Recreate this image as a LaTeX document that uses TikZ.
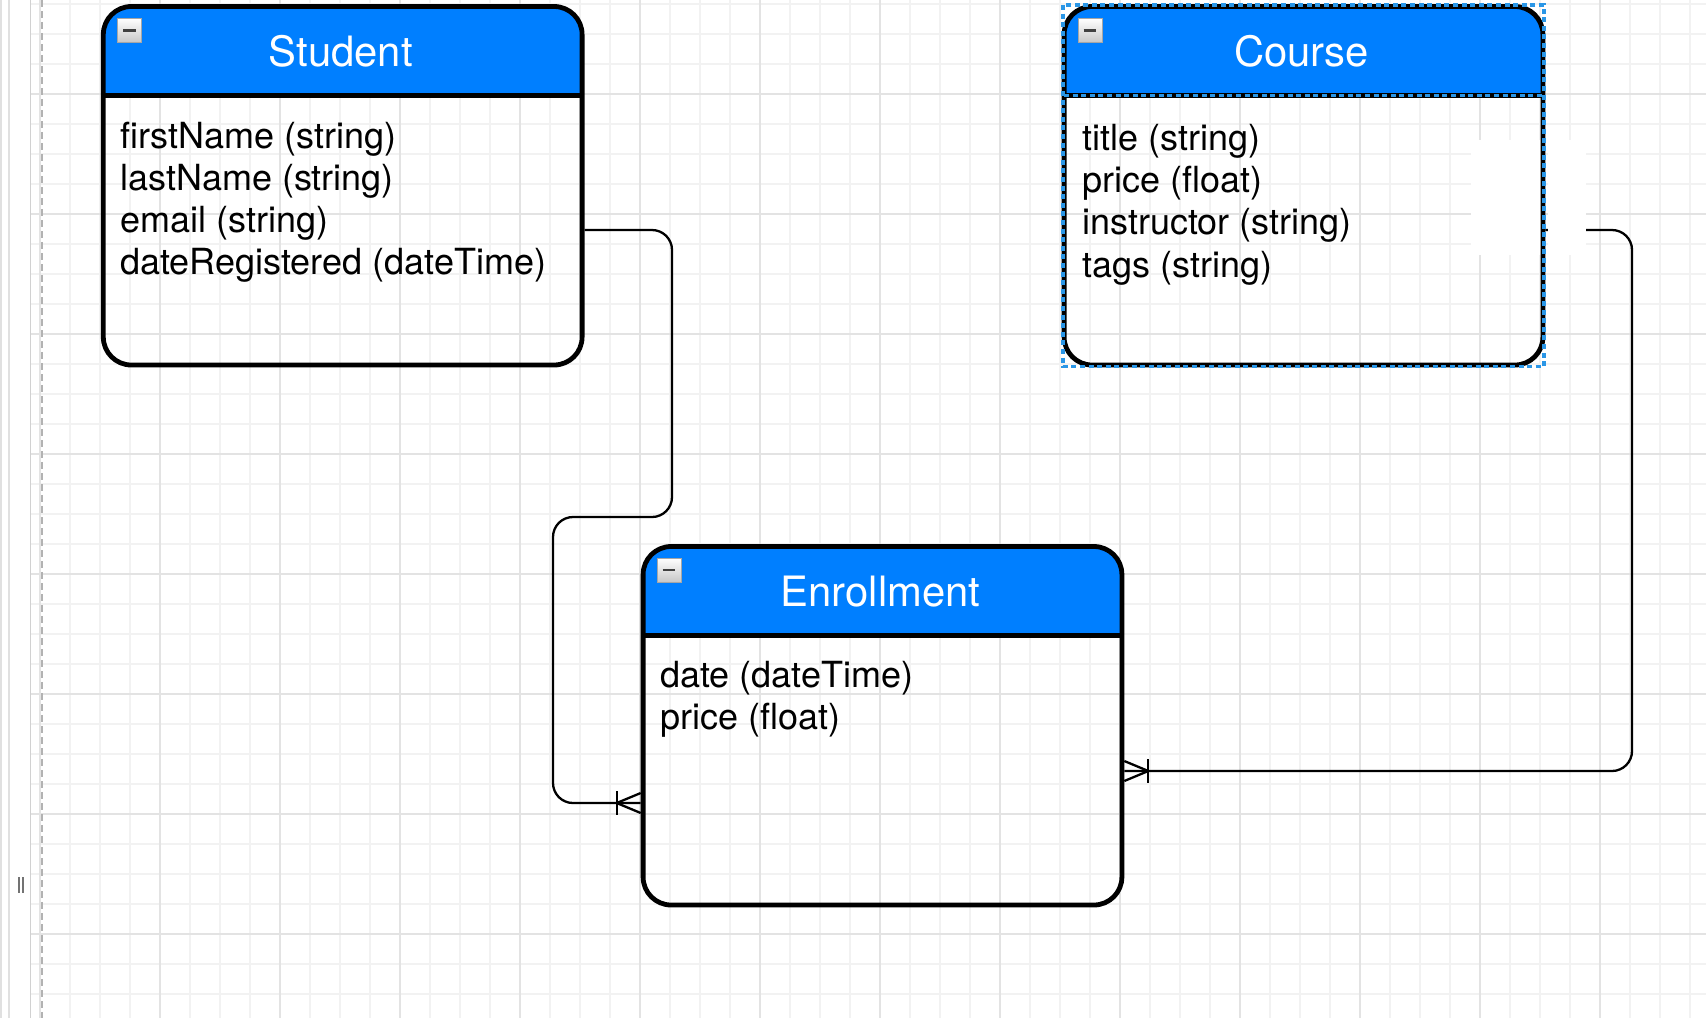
\documentclass[tikz,border=0pt]{standalone}
\usepackage{fontspec}
\setmainfont{TeX Gyre Heros}
\definecolor{hdr}{HTML}{007FFF}
\definecolor{selblue}{HTML}{2A96E6}
\definecolor{gridminor}{HTML}{F2F2F2}
\definecolor{gridmajor}{HTML}{E3E3E3}
\begin{document}
\begin{tikzpicture}[x=0.5pt,y=-0.5pt,
  entity/.style={draw=black, line width=2.4pt, rounded corners=14pt,
    minimum width=239.4pt, minimum height=179.25pt, inner sep=0pt,
    path picture={
      \fill[hdr, sharp corners] (path picture bounding box.north west) rectangle ([yshift=-44.65pt]path picture bounding box.north east);
      \draw[black, line width=2.4pt, sharp corners] ([yshift=-44.65pt]path picture bounding box.north west) -- ([yshift=-44.65pt]path picture bounding box.north east);
    }},
  title/.style={font=\fontsize{20.9pt}{24pt}\selectfont, text=white, anchor=base, inner sep=0pt},
  attr/.style={font=\fontsize{18pt}{21pt}\selectfont, text=black, anchor=base west, inner sep=0pt},
  icon/.style={minimum size=12pt, inner sep=0pt, draw=black!35, line width=0.5pt,
    top color=white, bottom color=black!22,
    path picture={\draw[line width=1.35pt, black!75] ([xshift=2.8pt]path picture bounding box.west) -- ([xshift=-2.8pt]path picture bounding box.east);}},
  conn/.style={draw=black, line width=1.15pt, rounded corners=10pt},
  foot/.style={draw=black, line width=1.15pt},
  selbox/.style={draw=selblue, line width=1.6pt, dash pattern=on 2.5pt off 1.8pt},
]
\useasboundingbox (0,0) rectangle (1706,1018);
\fill[white] (0,0) rectangle (1706,1018);
% grid
\foreach \xx in {40,70,...,1700} \draw[gridminor, line width=0.6pt] (\xx,0) -- (\xx,1018);
\foreach \yy in {4,34,...,1018} \draw[gridminor, line width=0.6pt] (31,\yy) -- (1706,\yy);
\foreach \xx in {40,160,...,1700} \draw[gridmajor, line width=0.7pt] (\xx,0) -- (\xx,1018);
\foreach \yy in {94,214,...,1018} \draw[gridmajor, line width=0.7pt] (31,\yy) -- (1706,\yy);
% left strip and page border
\draw[black!12, line width=0.6pt] (1,0) -- (1,1018);
\draw[black!12, line width=0.6pt] (9,0) -- (9,1018);
\draw[black!18, line width=0.7pt] (30.5,0) -- (30.5,1018);
\draw[black!30, line width=1pt, dash pattern=on 3.5pt off 2pt] (42.3,0) -- (42.3,1018);
\fill[black!55] (17.5,877) rectangle (19.5,893);
\fill[black!55] (21.5,877) rectangle (23.5,893);

% entity outlines as named nodes (drawn after connectors)
\path (342.7,185.75) coordinate (studentc);
\path (1303.5,185.75) coordinate (coursec);
\path (882.5,725.75) coordinate (enrollc);
\node[entity, draw=none, path picture={}] (student) at (studentc) {};
\node[entity, draw=none, path picture={}] (course) at (coursec) {};
\node[entity, draw=none, path picture={}] (enroll) at (enrollc) {};

% connector Student -> Enrollment
\coordinate (s1) at (student.east |- 0,230);
\coordinate (e1) at (enroll.west |- 0,803);
\draw[conn] (s1) -- (672,230) -- (672,517) -- (553,517) -- (553,803) -- (e1);
\draw[foot] ([xshift=-12pt]e1) -- ([yshift=5pt]e1);
\draw[foot] ([xshift=-12pt]e1) -- ([yshift=-5pt]e1);
\draw[foot] ([xshift=-12pt,yshift=6pt]e1) -- ([xshift=-12pt,yshift=-6pt]e1);

% connector Course -> Enrollment
\coordinate (c1) at (course.east |- 0,230);
\coordinate (e2) at (enroll.east |- 0,771);
\draw[conn] (c1) -- (1632,230) -- (1632,771) -- (e2);
\draw[foot] ([xshift=12pt]e2) -- ([yshift=5pt]e2);
\draw[foot] ([xshift=12pt]e2) -- ([yshift=-5pt]e2);
\draw[foot] ([xshift=12pt,yshift=6pt]e2) -- ([xshift=12pt,yshift=-6pt]e2);

% empty label background patch
\fill[white] (1471,140) rectangle (1543,255);
\fill[white] (1548,140) rectangle (1586,255);

% entities
\node[entity] (studentbox) at (studentc) {};
\node[entity] (coursebox) at (coursec) {};
\node[entity] (enrollbox) at (enrollc) {};

% titles
\node[title] (st) at (340.7,66.7) {Student};
\node[title] (ct) at (1301.5,66.7) {Course};
\node[title] (et) at (880.5,606.2) {Enrollment};

% icons
\node[icon] (si) at (129.4,30.5) {};
\node[icon] (ci) at (1090,30.5) {};
\node[icon] (ei) at (669,570) {};

% attributes
\node[attr] (sa1) at (120,148) {firstName (string)};
\node[attr] (sa2) at (120,190.3) {lastName (string)};
\node[attr] (sa3) at (120,232.3) {email (string)};
\node[attr] (sa4) at (120,274.3) {dateRegistered (dateTime)};

\node[attr] (ca1) at (1082,150.2) {title (string)};
\node[attr] (ca2) at (1082,192.5) {price (float)};
\node[attr] (ca3) at (1082,234.8) {instructor (string)};
\node[attr] (ca4) at (1082,277) {tags (string)};

\node[attr] (ea1) at (660,687.5) {date (dateTime)};
\node[attr] (ea2) at (660,729.8) {price (float)};

% selection of Course
\draw[selbox] (1063,5) rectangle (1544,366.5);
\draw[selbox] (1064,95.8) -- (1543,95.8);
\end{tikzpicture}
\end{document}
